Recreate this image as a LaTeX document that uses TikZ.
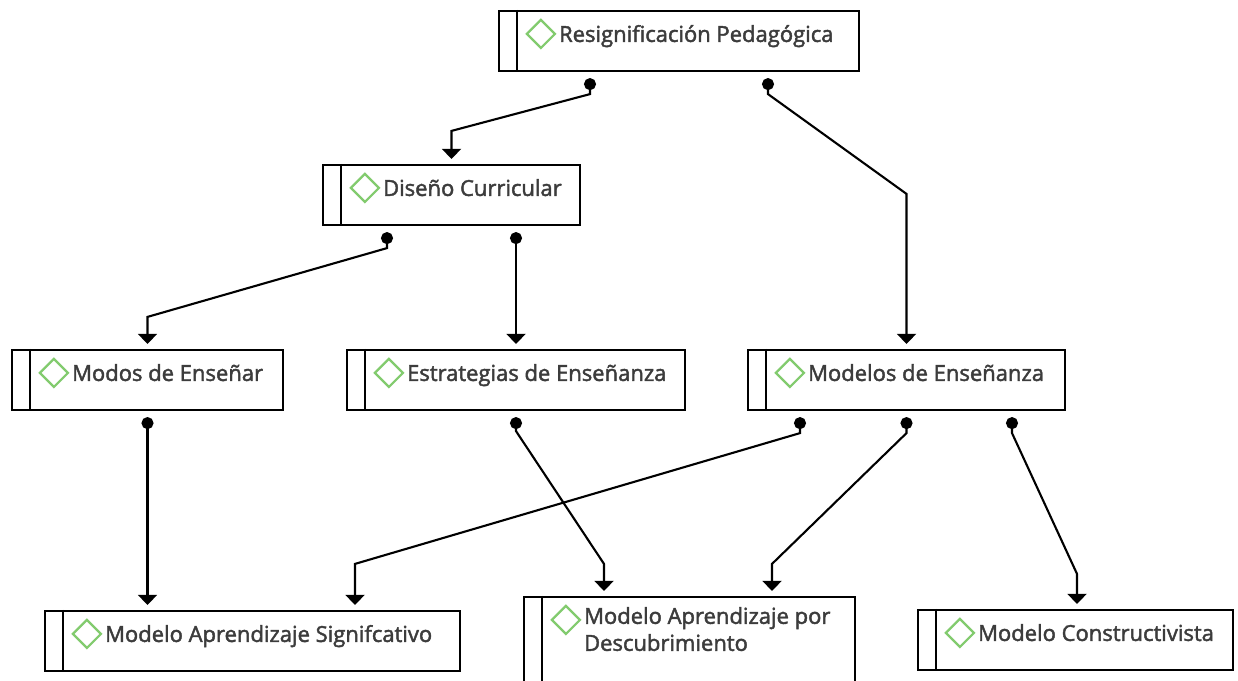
\documentclass[tikz,border=0pt]{standalone}
\usepackage{fontspec}
\setmainfont{Open Sans}[FakeBold=2,AutoFakeBold=2]
\usetikzlibrary{shapes.geometric,arrows.meta,calc}
\definecolor{txt}{HTML}{3C3C3C}
\definecolor{dia}{HTML}{82CB6E}
\begin{document}
\begin{tikzpicture}[x=1pt,y=-1pt,
  box/.style={draw=black,line width=2.2pt,fill=white,minimum height=60pt,inner sep=0pt},
  lbl/.style={anchor=base west,text=txt,font=\bfseries\fontsize{22}{27}\selectfont,inner sep=0pt,align=left},
  dmd/.style={diamond,draw=dia,line width=2.2pt,minimum width=29pt,minimum height=29pt,inner sep=0pt},
  conn/.style={line width=2.1pt,{Circle[length=12pt,width=12pt]}-{Triangle[length=10pt,width=19pt]},shorten >=5pt},
]
\useasboundingbox (0,0) rectangle (1238,680);

\newcommand{\mybox}[5]{%
  \node[box,minimum width=#4 pt] (#1) at (#2,#3) {};
  \draw[line width=2.2pt] ([xshift=19pt]#1.north west) -- ([xshift=19pt]#1.south west);
  \node[dmd] (#1d) at ([xshift=43pt,yshift=-24pt]#1.north west) {};
  \node[lbl] (#1t) at ([xshift=61pt,yshift=-32pt]#1.north west) {#5};
}

\mybox{r}{679}{41}{360}{Resignificación Pedagógica}
\mybox{dc}{451.5}{195}{257}{Diseño Curricular}
\mybox{me}{147.5}{380}{271}{Modos de Enseñar}
\mybox{ee}{516}{380}{338}{Estrategias de Enseñanza}
\mybox{mo}{906.5}{380}{317}{Modelos de Enseñanza}
\mybox{ms}{252.5}{641}{415}{Modelo Aprendizaje Signifcativo}
\node[box,minimum width=331pt,minimum height=96pt] (md) at (689.5,645) {};
\draw[line width=2.2pt] ([xshift=19pt]md.north west) -- ([xshift=19pt]md.south west);
\node[dmd] (mdd) at ([xshift=43pt,yshift=-24pt]md.north west) {};
\node[lbl,anchor=north west] (mdt) at ([xshift=61pt,yshift=-11pt]md.north west) {Modelo Aprendizaje por\\Descubrimiento};
\mybox{mc}{1075.5}{640}{315}{Modelo Constructivista}

% connectors
\draw[conn] ([xshift=-89pt,yshift=-6pt]r.south) -- ([xshift=-89pt,yshift=-22pt]r.south)
  -- ([yshift=33pt]dc.north) -- ([yshift=0pt]dc.north);
\draw[conn] ([xshift=89pt,yshift=-6pt]r.south) -- ([xshift=89pt,yshift=-22pt]r.south)
  -- ([yshift=155pt]mo.north) -- (mo.north);
\draw[conn] ([xshift=-64.5pt,yshift=-6pt]dc.south) -- ([xshift=-64.5pt,yshift=-22pt]dc.south)
  -- ([yshift=32pt]me.north) -- (me.north);
\draw[conn] ([xshift=64.5pt,yshift=-6pt]dc.south) -- (ee.north);
\draw[conn] ([yshift=-6pt]me.south) -- (ms.north -| me.south);
\draw[conn] ([yshift=-6pt]ee.south) -- ([yshift=-20pt]ee.south)
  -- ([xshift=-85.5pt,yshift=32pt]md.north) -- ([xshift=-85.5pt]md.north);
\draw[conn] ([xshift=-106.5pt,yshift=-6pt]mo.south) -- ([xshift=-106.5pt,yshift=-22pt]mo.south)
  -- ([xshift=102.5pt,yshift=46pt]ms.north) -- ([xshift=102.5pt]ms.north);
\draw[conn] ([yshift=-6pt]mo.south) -- ([yshift=-22pt]mo.south)
  -- ([xshift=82.5pt,yshift=32pt]md.north) -- ([xshift=82.5pt]md.north);
\draw[conn] ([xshift=105.5pt,yshift=-6pt]mo.south) -- ([xshift=105.5pt,yshift=-22pt]mo.south)
  -- ([xshift=1.5pt,yshift=35pt]mc.north) -- ([xshift=1.5pt]mc.north);
\end{tikzpicture}
\end{document}
